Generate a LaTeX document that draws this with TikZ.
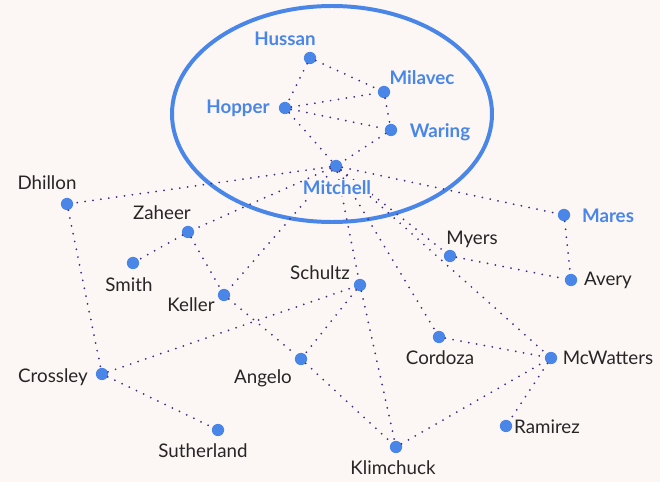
\documentclass[tikz,border=0pt]{standalone}
\usepackage{fontspec}
\setmainfont{Lato}
\usepackage{tikz}

\definecolor{dotblue}{HTML}{4A86E8}
\definecolor{linkpurple}{HTML}{3A2F8C}
\definecolor{paper}{HTML}{FCF7F4}

\tikzset{
  person/.style={shape=circle, fill=dotblue, inner sep=0pt, minimum size=10.5pt},
  link/.style={linkpurple, line width=1.7pt, line cap=round, dash pattern=on 0pt off 6.8pt},
  outername/.style={font=\fontsize{16}{18}\selectfont, text=black!85, fill=paper, inner sep=1pt},
  corename/.style={font=\fontsize{16}{18}\selectfont\bfseries, text=dotblue, fill=paper, inner sep=1pt},
}

\begin{document}
\begin{tikzpicture}[x=0.03cm, y=-0.03cm]
        \fill[paper] (0, 0) rectangle (660, 482);
        \useasboundingbox (0, 0) rectangle (660, 482);

        % inner circle
        \draw[dotblue, line width=3.4pt] (332, 114) ellipse [x radius=160, y radius=108];

        \node[person] (hussan) at (310, 58) {};
        \node[person] (milavec) at (384, 92) {};
        \node[person] (hopper) at (285, 108) {};
        \node[person] (waring) at (391, 130) {};
        \node[person] (mitchell) at (336, 166) {};
        \node[person] (mares) at (564, 215) {};
        \node[person] (dhillon) at (67, 204) {};
        \node[person] (zaheer) at (188, 232) {};
        \node[person] (smith) at (133, 263) {};
        \node[person] (keller) at (224, 295) {};
        \node[person] (schultz) at (360, 285) {};
        \node[person] (myers) at (450, 256) {};
        \node[person] (avery) at (571, 280) {};
        \node[person] (cordoza) at (439, 337) {};
        \node[person] (mcwatters) at (551, 358) {};
        \node[person] (angelo) at (301, 359) {};
        \node[person] (crossley) at (102, 374) {};
        \node[person] (sutherland) at (218, 430) {};
        \node[person] (klimchuck) at (396, 447) {};
        \node[person] (ramirez) at (506, 426) {};

        % links
        \draw[link] (hussan) -- (hopper);
        \draw[link] (hussan) -- (milavec);
        \draw[link] (hopper) -- (milavec);
        \draw[link] (hopper) -- (waring);
        \draw[link] (milavec) -- (waring);
        \draw[link] (hopper) -- (mitchell);
        \draw[link] (waring) -- (mitchell);
        \draw[link] (mitchell) -- (dhillon);
        \draw[link] (mitchell) -- (mares);
        \draw[link] (mitchell) -- (zaheer);
        \draw[link] (mitchell) -- (keller);
        \draw[link] (mitchell) -- (schultz);
        \draw[link] (mitchell) -- (cordoza);
        \draw[link] (mitchell) -- (mcwatters);
        \draw[link] (mitchell) -- (myers);
        \draw[link] (mares) -- (avery);
        \draw[link] (myers) -- (avery);
        \draw[link] (zaheer) -- (smith);
        \draw[link] (zaheer) -- (keller);
        \draw[link] (keller) -- (angelo);
        \draw[link] (dhillon) -- (crossley);
        \draw[link] (crossley) -- (sutherland);
        \draw[link] (crossley) -- (schultz);
        \draw[link] (schultz) -- (angelo);
        \draw[link] (schultz) -- (klimchuck);
        \draw[link] (angelo) -- (klimchuck);
        \draw[link] (cordoza) -- (mcwatters);
        \draw[link] (klimchuck) -- (mcwatters);
        \draw[link] (mcwatters) -- (ramirez);

        \node[corename] at (285, 39) {Hussan};
        \node[corename] at (422, 78) {Milavec};
        \node[corename] at (238, 108) {Hopper};
        \node[corename] at (440, 132) {Waring};
        \node[corename] at (337, 188) {Mitchell};
        \node[corename] at (608, 216) {Mares};

        \node[outername] at (47, 183) {Dhillon};
        \node[outername] at (162, 213) {Zaheer};
        \node[outername] at (129, 285) {Smith};
        \node[outername] at (191, 305) {Keller};
        \node[outername] at (320, 273) {Schultz};
        \node[outername] at (472, 239) {Myers};
        \node[outername] at (608, 280) {Avery};
        \node[outername] at (440, 358) {Cordoza};
        \node[outername] at (608, 358) {McWatters};
        \node[outername] at (263, 378) {Angelo};
        \node[outername] at (53, 377) {Crossley};
        \node[outername] at (203, 451) {Sutherland};
        \node[outername] at (393, 468) {Klimchuck};
        \node[outername] at (547, 427) {Ramirez};
    \end{tikzpicture}
\end{document}
